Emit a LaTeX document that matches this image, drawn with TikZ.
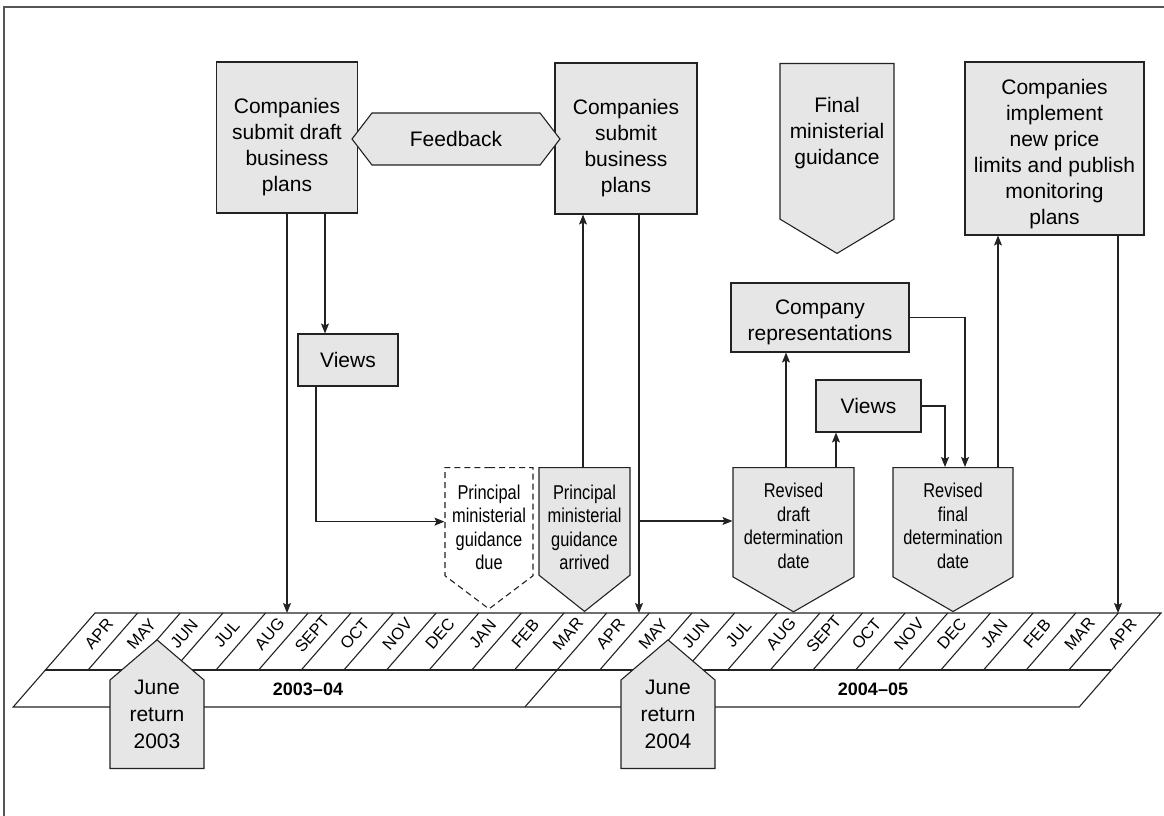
\documentclass[tikz,border=0pt]{standalone}
\usepackage{fontspec}
\setmainfont{Liberation Sans}
\newfontfamily\narrowfont[FakeStretch=0.82]{Liberation Sans}
\usetikzlibrary{arrows.meta, shapes.symbols}
\definecolor{boxgrey}{HTML}{E6E6E6}
\definecolor{linegrey}{HTML}{222222}
\definecolor{framegrey}{HTML}{555555}
\newcommand{\topgap}[1]{\rule{0pt}{#1}}
\newcommand{\botgap}[1]{\rule[-#1]{0pt}{#1}}

\begin{document}
\begin{tikzpicture}[x=1pt, y=-1pt,
        box/.style={draw=linegrey, line width=1.1pt, fill=boxgrey, align=center, inner sep=0pt, font=\fontsize{21}{26}\selectfont},
        flag/.style={box, signal, signal to=south, font=\narrowfont\fontsize{20}{23.5}\selectfont},
        june/.style={box, signal, signal to=north, signal pointer angle=99, minimum width=94pt, minimum height=99pt, anchor=south, font=\fontsize{21}{27}\selectfont},
        arr/.style={-{Stealth[length=10pt, width=8pt, inset=2pt]}, draw=linegrey, line width=1.1pt},
        month/.style={rotate=49, font=\fontsize{16.5}{16.5}\selectfont},
        year/.style={font=\bfseries\fontsize{18}{18}\selectfont}]
      \useasboundingbox (0,0) rectangle (1164,816);
      \draw[framegrey, line width=1.5pt] (4,816) -- (4,7) -- (1164,7);

      \coordinate (tltop) at (0,613);
      \draw[linegrey, line width=1.1pt] (95,613) -- (1161,613) -- (1079.2,707) -- (13.2,707) -- cycle;
      \draw[linegrey, line width=1.1pt] (45.4,670) -- (1111.4,670);
      \draw[linegrey, line width=1.1pt] (557.1,670) -- (524.9,707);
      \foreach \i in {1,...,24}
        \draw[linegrey, line width=1.1pt] (95+42.64*\i,613) -- ++(-49.6,57);
      \foreach \m [count=\i from 0] in {APR,MAY,JUN,JUL,AUG,SEPT,OCT,NOV,DEC,JAN,FEB,MAR,APR,MAY,JUN,JUL,AUG,SEPT,OCT,NOV,DEC,JAN,FEB,MAR,APR}
        \node[month] (m\i) at (98.9+42.64*\i,634) {\m};
      \node[year] (fy03) at (308,689) {2003--04};
      \node[year] (fy04) at (873,689) {2004--05};

      \node[box, minimum width=141pt, minimum height=151pt] (draft) at (287,137.5) {\topgap{35pt}Companies\\submit draft\\business\\plans};
      \node[box, minimum width=142pt, minimum height=151pt] (submit) at (626,138.5) {\topgap{35pt}Companies\\submit\\business\\plans};
      \node[box, signal, signal to=east and west, signal pointer angle=105, minimum width=208pt, minimum height=52pt] (feedback) at (456,139) {Feedback};
      \node[box, signal, signal to=south, signal pointer angle=118, minimum width=114pt, minimum height=184pt, anchor=north] (final) at (837,63) {Final\\ministerial\\guidance\botgap{20pt}};
      \node[box, minimum width=179pt, minimum height=173pt] (implement) at (1054.5,148.5) {\topgap{26pt}Companies\\implement\\new price\\limits and publish\\monitoring\\plans};
      \node[box, minimum width=100pt, minimum height=52pt] (views) at (348,360) {Views};
      \node[box, minimum width=178pt, minimum height=69pt] (reps) at (820,317.5) {\topgap{23.5pt}Company\\representations};
      \node[box, minimum width=105pt, minimum height=52pt] (views2) at (868.5,406) {Views};

      \node[flag, fill=none, dash pattern=on 6pt off 4pt, signal pointer angle=106, minimum width=88pt, minimum height=136pt, anchor=north] (due) at (489,467) {\topgap{26pt}Principal\\ministerial\\guidance\\due};
      \node[flag, signal pointer angle=103, minimum width=91pt, minimum height=137pt, anchor=north] (arrived) at (584.5,467) {\topgap{26pt}Principal\\ministerial\\guidance\\arrived};
      \node[flag, signal pointer angle=120, minimum width=121pt, minimum height=138pt, anchor=north] (rdraft) at (793.5,467) {\topgap{21.5pt}Revised\\draft\\determination\\date};
      \node[flag, signal pointer angle=120, minimum width=120pt, minimum height=138pt, anchor=north] (rfinal) at (953,467) {\topgap{21.5pt}Revised\\final\\determination\\date};
      \node[june] (june03) at (157,769) {June\\return\\2003\botgap{20pt}};
      \node[june] (june04) at (668,769) {June\\return\\2004\botgap{20pt}};

      \coordinate (split) at (639,521);
      \draw[arr] (draft.south) -- (draft.south |- tltop);
      \draw[arr] ([xshift=38pt]draft.south) -- ([xshift=38pt]draft.south |- views.north);
      \draw[arr] ([xshift=-32pt]views.south) |- (due.west);
      \draw[arr] ([xshift=-1.5pt]arrived.north) -- ([xshift=-1.5pt]arrived.north |- submit.south);
      \draw[arr] ([xshift=13pt]submit.south) -- ([xshift=13pt]submit.south |- tltop);
      \draw[arr] (split) -- (split -| rdraft.west);
      \draw[arr] ([xshift=-7.5pt]rdraft.north) -- ([xshift=-7.5pt]rdraft.north |- reps.south);
      \draw[arr] ([xshift=42.5pt]rdraft.north) -- ([xshift=42.5pt]rdraft.north |- views2.south);
      \draw[arr] (reps.east) -| ([xshift=12pt]rfinal.north);
      \draw[arr] (views2.east) -| ([xshift=-8pt]rfinal.north);
      \draw[arr] ([xshift=45pt]rfinal.north) -- ([xshift=45pt]rfinal.north |- implement.south);
      \draw[arr] ([xshift=63.5pt]implement.south) -- ([xshift=63.5pt]implement.south |- tltop);
    \end{tikzpicture}
\end{document}
